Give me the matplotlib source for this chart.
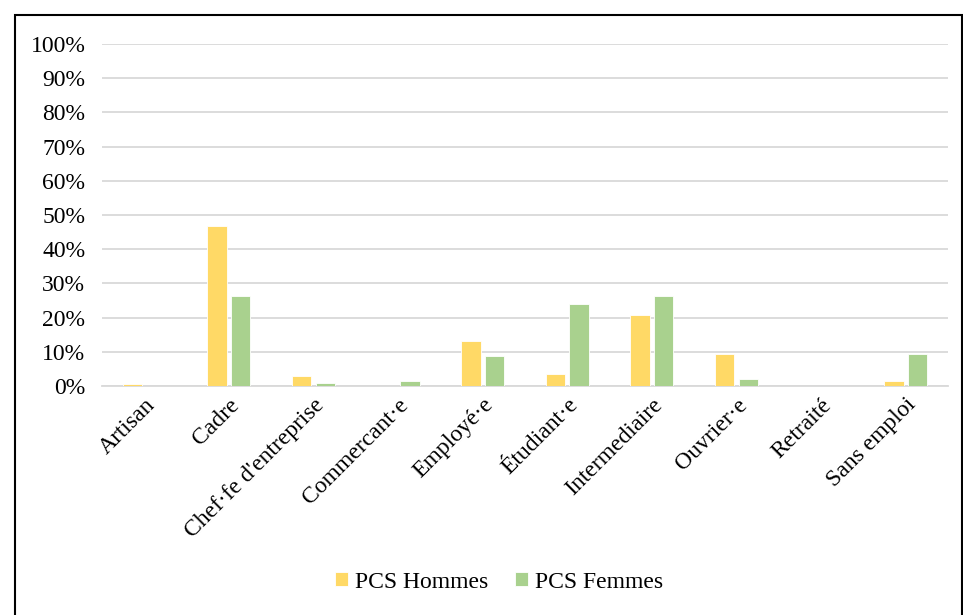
import numpy as np
import matplotlib.pyplot as plt
from matplotlib.patches import Rectangle

plt.rcParams['font.family'] = ['Liberation Serif', 'DejaVu Serif']

categories = ["Artisan", "Cadre", "Chef·fe d'entreprise", "Commercant·e", "Employé·e",
              "Étudiant·e", "Intermediaire", "Ouvrier·e", "Retraité", "Sans emploi"]
hommes = [0.5, 46.9, 2.8, 0.1, 13.3, 3.4, 20.8, 9.3, 0.1, 1.6]
femmes = [0.0, 26.3, 1.0, 1.6, 8.9, 24.1, 26.3, 2.1, 0.0, 9.3]
yticks = list(range(0, 101, 10))

fig = plt.figure(figsize=(9.63, 6.15), dpi=100)
ax = fig.add_axes([102 / 963, 1 - 386 / 615, 846 / 963, 342 / 615])

x = np.arange(len(categories))
w = 0.23
ax.bar(x - w / 2 - 0.025, hommes, w, color="#FFD966", edgecolor="white", linewidth=0.6,
       label="PCS Hommes", zorder=3)
ax.bar(x + w / 2 + 0.025, femmes, w, color="#A9D18E", edgecolor="white", linewidth=0.6,
       label="PCS Femmes", zorder=3)

ax.set_xlim(-0.5, len(categories) - 0.5)
ax.set_ylim(0, 100)
ax.set_yticks(yticks)
ax.set_yticklabels(["%d%%" % t for t in yticks], fontsize=17)
ax.set_xticks(x)
ax.set_xticklabels(categories, rotation=45, ha="right", rotation_mode="anchor", fontsize=17)
ax.tick_params(axis="y", length=0, pad=12)
ax.tick_params(axis="x", length=0, pad=6)
ax.yaxis.grid(True, color="#D9D9D9", linewidth=1.3, zorder=0)
for s in ["top", "right", "left"]:
    ax.spines[s].set_visible(False)
ax.spines["bottom"].set_color("#D9D9D9")
ax.spines["bottom"].set_linewidth(1.3)

fig.legend(loc="center", bbox_to_anchor=(499 / 963, 1 - 582 / 615), ncol=2, frameon=False,
           fontsize=17, handlelength=0.55, handleheight=0.55, handletextpad=0.3, columnspacing=1.1)

fig.patches.append(Rectangle((15 / 963, -0.01), 947 / 963, 1 - 15 / 615 + 0.01,
                             transform=fig.transFigure, fill=False, edgecolor="black",
                             linewidth=1.5))

fig.savefig("out.png", dpi=100)
